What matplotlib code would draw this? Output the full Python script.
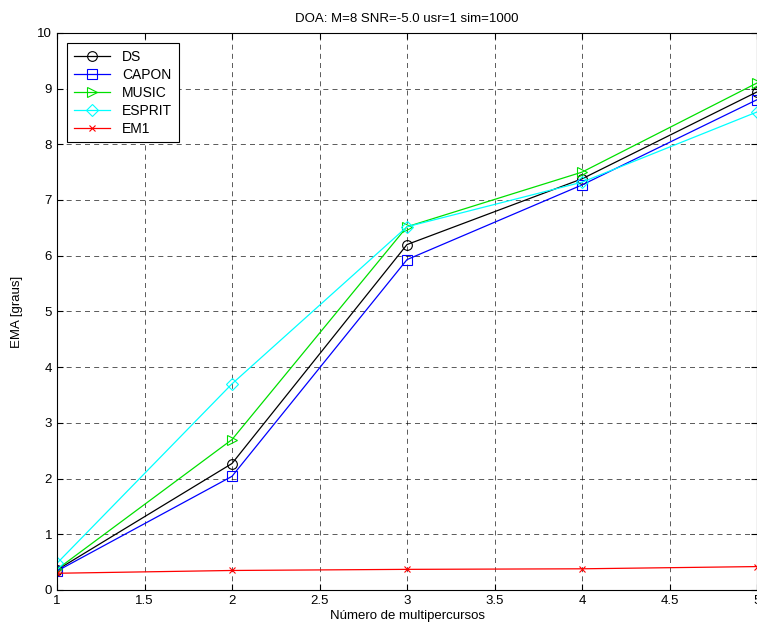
import numpy as np
import matplotlib.pyplot as plt

plt.rcParams['font.family'] = ['Liberation Sans', 'DejaVu Sans']

# number of multipath components
paths = [1, 2, 3, 4, 5]

# mean absolute error (degrees) per method
ds = [0.36, 2.27, 6.2, 7.38, 8.94]
capon = [0.34, 2.04, 5.93, 7.27, 8.8]
music = [0.37, 2.7, 6.52, 7.5, 9.1]
esprit = [0.48, 3.7, 6.52, 7.32, 8.58]
em1 = [0.3, 0.35, 0.37, 0.38, 0.42]

fig = plt.figure(figsize=(7.57, 6.32), dpi=100)
ax = fig.add_axes([0.0753, 0.0665, 0.9247, 0.8815])

ms = 7
ax.plot(paths, ds, '-o', color='k', mfc='none', ms=ms, lw=0.9, mew=0.8, label='DS')
ax.plot(paths, capon, '-s', color='b', mfc='none', ms=ms, lw=0.9, mew=0.8, label='CAPON')
ax.plot(paths, music, '->', color='#00e000', mfc='none', ms=ms, lw=0.9, mew=0.8, label='MUSIC')
ax.plot(paths, esprit, '-D', color='cyan', mfc='none', ms=6, lw=0.9, mew=0.8, label='ESPRIT')
ax.plot(paths, em1, '-x', color='r', ms=4, lw=0.9, mew=0.8, label='EM1')

ax.set_xlim(1, 5)
ax.set_ylim(0, 10)
ax.set_xticks(np.arange(1, 5.01, 0.5))
ax.set_xticklabels(['1', '1.5', '2', '2.5', '3', '3.5', '4', '4.5', '5'])
ax.set_yticks(np.arange(0, 11, 1))
ax.tick_params(direction='in', labelsize=9.5, length=4, top=True, right=True)
ax.grid(True, color='k', linestyle=(0, (6, 5)), linewidth=0.6, alpha=0.75)

ax.set_title('DOA: M=8 SNR=-5.0 usr=1 sim=1000', fontsize=9.5, pad=8)
ax.set_xlabel('Número de multipercursos', fontsize=9.5, labelpad=2)
ax.set_ylabel('EMA [graus]', fontsize=9.5, labelpad=10)

leg = ax.legend(loc='upper left', fontsize=10, fancybox=False, edgecolor='k',
                framealpha=1, borderaxespad=0.75, handlelength=2.6,
                labelspacing=0.3, borderpad=0.45, handletextpad=0.9)
leg.get_frame().set_linewidth(0.8)

fig.savefig('out.png', dpi=100)
